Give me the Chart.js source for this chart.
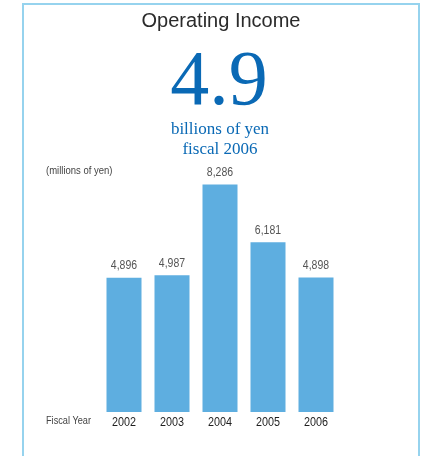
<!DOCTYPE html>
<html>
<head>
<meta charset="utf-8">
<script src="https://cdn.jsdelivr.net/npm/chart.js@4.4.0/dist/chart.umd.min.js"></script>
<style>
  html, body { margin: 0; padding: 0; background: #fff; }
  #page { position: relative; width: 422px; height: 456px; overflow: hidden; }
  #frame {
    position: absolute; left: 22px; top: 3px; width: 398px; height: 470px;
    border: 2px solid #96d3ee; border-bottom: none; box-sizing: border-box;
  }
  #chart { position: absolute; left: 0; top: 0; }
  .txt { position: absolute; white-space: nowrap; }
  #title {
    left: 0; width: 442px; top: 10px; text-align: center;
    font: 20px/20px "Liberation Sans", Arial, sans-serif; color: #2b2b2b;
  }
  #big {
    left: 0; width: 438px; top: 39px; text-align: center;
    font: 78px/78px "Liberation Serif", "Times New Roman", serif; color: #0a69b5;
  }
  #sub {
    left: 0; width: 440px; top: 119px; text-align: center;
    font: 17px/20px "Liberation Serif", "Times New Roman", serif; color: #0a69b5;
  }
  .unit {
    font: 10px/10px "Liberation Sans", Arial, sans-serif; color: #444;
    transform-origin: 0 0;
  }
  #unit { left: 46px; top: 166px; transform: scaleX(0.95); }
  #fy { left: 46px; top: 416px; transform: scaleX(0.92); }
</style>
</head>
<body>
<div id="page">
  <div id="frame"></div>
  <canvas id="chart" width="422" height="456"></canvas>
  <div class="txt" id="title">Operating Income</div>
  <div class="txt" id="big">4.9</div>
  <div class="txt" id="sub">billions of yen<br>fiscal 2006</div>
  <div class="txt unit" id="unit">(millions of yen)</div>
  <div class="txt unit" id="fy">Fiscal Year</div>
</div>
<script>
// fiscal years and operating income, millions of yen
var years = ['2002', '2003', '2004', '2005', '2006'];
var income = [4896, 4987, 8286, 6181, 4898];
var yMax = 9000;

// fillText squeezed horizontally, to get a condensed face out of Liberation Sans
function narrowText(ctx, text, x, y, sx) {
    ctx.save();
    ctx.translate(x, y);
    ctx.scale(sx, 1);
    ctx.fillText(text, 0, 0);
    ctx.restore();
}

// bar values above each bar, year labels under the x axis
var barText = {
    id: 'barText',
    afterDatasetsDraw: function(chart) {
        var ctx = chart.ctx;
        var meta = chart.getDatasetMeta(0);
        var xs = chart.scales.x;
        ctx.save();
        ctx.textAlign = 'center';
        ctx.textBaseline = 'alphabetic';

        ctx.font = '12.5px "Liberation Sans", Arial, sans-serif';
        ctx.fillStyle = '#555';
        meta.data.forEach(function(bar, i) {
            var v = chart.data.datasets[0].data[i];
            narrowText(ctx, v.toLocaleString('en-US'), bar.x, bar.y - 8.3, 0.84);
        });

        ctx.font = '13.5px "Liberation Sans", Arial, sans-serif';
        ctx.fillStyle = '#1e1e1e';
        xs.getLabels().forEach(function(lab, i) {
            narrowText(ctx, lab, xs.getPixelForTick(i), xs.top + 13.7, 0.8);
        });
        ctx.restore();
    }
};

var ctx = document.getElementById('chart');
var chart = new Chart(ctx, {
    type: 'bar',
    data: {
        labels: years,
        datasets: [{
            data: income,
            backgroundColor: '#5eaee0',
            borderWidth: 0,
            barPercentage: 35 / 48,
            categoryPercentage: 1
        }]
    },
    options: {
        responsive: false,
        animation: false,
        layout: { padding: { top: 165, left: 100, right: 82, bottom: 0 } },
        plugins: {
            legend: { display: false },
            tooltip: { enabled: false }
        },
        scales: {
            x: {
                grid: { display: false, drawTicks: false },
                border: { display: false },
                ticks: { display: false },
                afterFit: function(scale) { scale.height = 44; }
            },
            y: { display: false, min: 0, max: yMax }
        }
    },
    plugins: [barText]
});
</script>
</body>
</html>
